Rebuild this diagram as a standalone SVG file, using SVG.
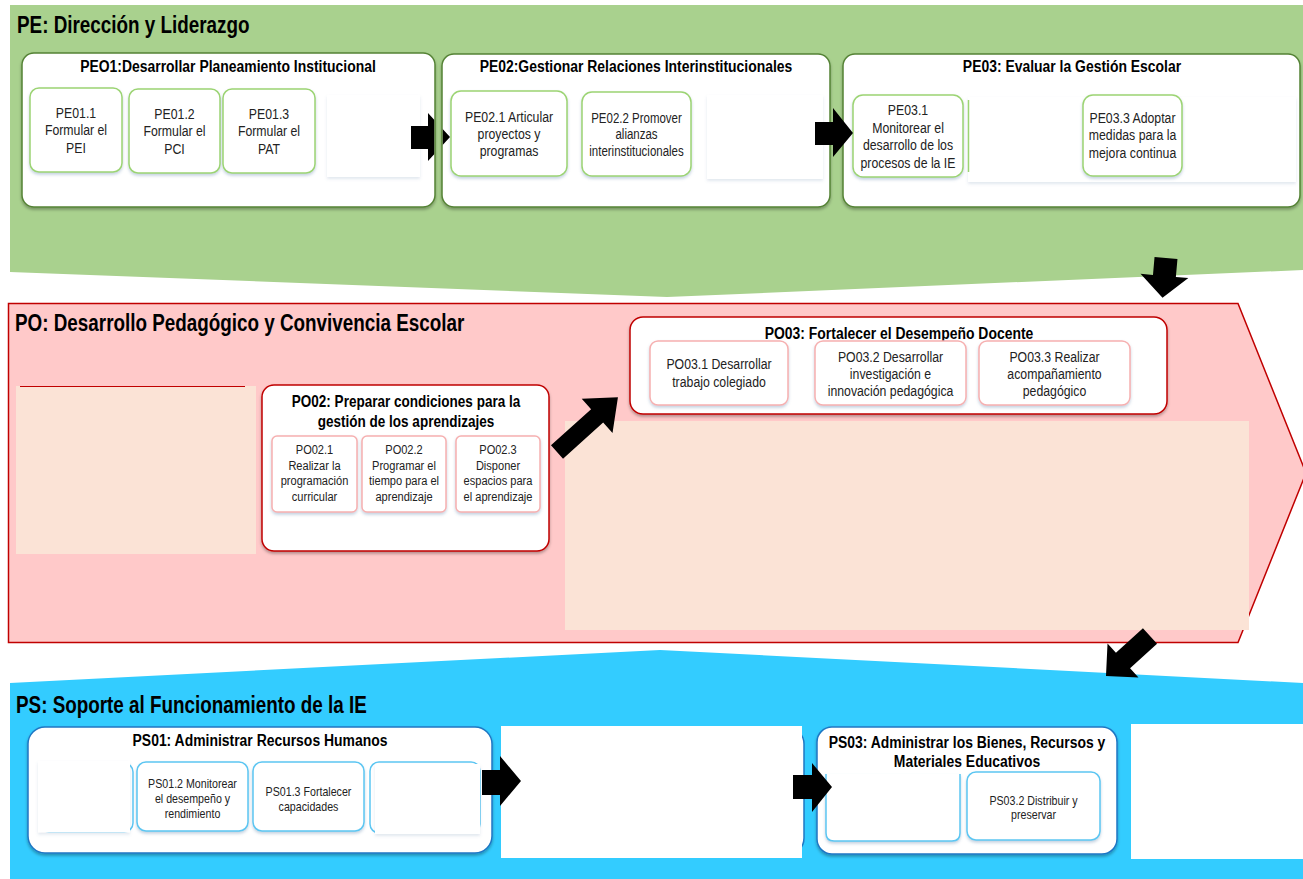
<svg xmlns="http://www.w3.org/2000/svg" width="1303" height="879" viewBox="0 0 1303 879">
<defs>
<style>
text{font-family:'Liberation Sans',Arial,sans-serif}
.bt{font-size:23px;font-weight:bold;fill:#000}
.ht{font-size:17px;font-weight:bold;fill:#000;text-anchor:middle}
.st{font-size:15px;fill:#222;text-anchor:middle}
.s14{font-size:14px}
.s135{font-size:13.5px}
.s13{font-size:13px}
.pe-box{fill:#fff;stroke:#548235;stroke-width:1.5}
.pe-sub{fill:#fff;stroke:#9cd473;stroke-width:1.5}
.po-box{fill:#fff;stroke:#c00000;stroke-width:1.5}
.po-sub{fill:#fff;stroke:#f6b0b0;stroke-width:1.5}
.ps-box{fill:#fff;stroke:#1f77c4;stroke-width:1.5}
.ps-sub{fill:#fff;stroke:#5cc6f2;stroke-width:1.5}
.cover{fill:#fff}
.peach{fill:#fbe3d6}
.arrow{fill:#000}
</style>
<filter id="sh" x="-10%" y="-10%" width="120%" height="130%"><feDropShadow dx="0" dy="2" stdDeviation="1.5" flood-color="#000" flood-opacity="0.3"/></filter>
<filter id="sh2" x="-10%" y="-10%" width="120%" height="130%"><feDropShadow dx="0" dy="2" stdDeviation="1.5" flood-color="#5b7fa8" flood-opacity="0.35"/></filter>
<filter id="faint" x="-10%" y="-10%" width="120%" height="130%"><feDropShadow dx="0" dy="2" stdDeviation="1.5" flood-color="#5b7fa8" flood-opacity="0.18"/></filter>
<clipPath id="gap"><rect x="0" y="0" width="434.2" height="879"/><rect x="442.8" y="0" width="861" height="879"/></clipPath>
</defs>

<g id="bands">
<polygon points="10,5 1303,5 1303,270 667,297 10,272" fill="#a9d18e"/>
<polygon points="8.5,303.5 1238,303.5 1306,473 1238,642.5 8.5,642.5" fill="#ffc9c9" stroke="#c00000" stroke-width="1.5"/>
<polygon points="10,683 660,650 1303,683 1303,879 10,879" fill="#33ccff"/>
<text class="bt" transform="translate(17,33) scale(0.82,1)">PE: Dirección y Liderazgo</text>
<text class="bt" transform="translate(15,331) scale(0.82,1)">PO: Desarrollo Pedagógico y Convivencia Escolar</text>
<text class="bt" transform="translate(16,713) scale(0.82,1)">PS: Soporte al Funcionamiento de la IE</text>
<rect class="peach" x="16" y="386" width="240" height="168"/>
<line x1="20" y1="386.5" x2="245" y2="386.5" stroke="#c00000" stroke-width="1.2"/>
<rect class="peach" x="565" y="421" width="684" height="209"/>
</g>

<g id="PE01">
<rect class="pe-box" x="22" y="53" width="413" height="154" rx="12" filter="url(#sh)"/>
<text class="ht" transform="translate(228,72) scale(0.82,1)">PEO1:Desarrollar Planeamiento Institucional</text>
<rect class="pe-sub" x="30" y="88" width="92" height="84" rx="9" filter="url(#sh2)"/>
<text class="st" transform="translate(76,118) scale(0.82,1)"><tspan x="0">PE01.1</tspan><tspan x="0" dy="17.5">Formular el</tspan><tspan x="0" dy="17.5">PEI</tspan></text>
<rect class="pe-sub" x="129" y="89" width="91" height="84" rx="9" filter="url(#sh2)"/>
<text class="st" transform="translate(174.5,119) scale(0.82,1)"><tspan x="0">PE01.2</tspan><tspan x="0" dy="17.5">Formular el</tspan><tspan x="0" dy="17.5">PCI</tspan></text>
<rect class="pe-sub" x="223" y="89" width="92" height="84" rx="9" filter="url(#sh2)"/>
<text class="st" transform="translate(269,119) scale(0.82,1)"><tspan x="0">PE01.3</tspan><tspan x="0" dy="17.5">Formular el</tspan><tspan x="0" dy="17.5">PAT</tspan></text>
<rect class="cover" x="327" y="95" width="93" height="82" filter="url(#faint)"/>
</g>

<g id="PE02">
<rect class="pe-box" x="442" y="54" width="388" height="153" rx="12" filter="url(#sh)"/>
<text class="ht" transform="translate(636,72) scale(0.82,1)">PE02:Gestionar Relaciones Interinstitucionales</text>
<rect class="pe-sub" x="451" y="91" width="116" height="85" rx="10" filter="url(#sh2)"/>
<text class="st" transform="translate(509,122) scale(0.82,1)"><tspan x="0">PE02.1 Articular</tspan><tspan x="0" dy="17">proyectos y</tspan><tspan x="0" dy="17">programas</tspan></text>
<rect class="pe-sub" x="582" y="92" width="109" height="84" rx="10" filter="url(#sh2)"/>
<text class="st s14" transform="translate(636.5,123) scale(0.82,1)"><tspan x="0">PE02.2 Promover</tspan><tspan x="0" dy="16.5">alianzas</tspan><tspan x="0" dy="16.5">interinstitucionales</tspan></text>
<rect class="cover" x="707" y="95" width="116" height="84" filter="url(#faint)"/>
</g>

<g id="PE03">
<rect class="pe-box" x="843" y="54" width="457" height="153" rx="12" filter="url(#sh)"/>
<text class="ht" transform="translate(1072,72) scale(0.82,1)">PE03: Evaluar la Gestión Escolar</text>
<rect class="pe-sub" x="853" y="95" width="110" height="82" rx="10" filter="url(#sh2)"/>
<text class="st" transform="translate(908,115) scale(0.82,1)"><tspan x="0">PE03.1</tspan><tspan x="0" dy="17.7">Monitorear  el</tspan><tspan x="0" dy="17.7">desarrollo de los</tspan><tspan x="0" dy="17.7">procesos de la IE</tspan></text>
<rect class="cover" x="968" y="97" width="328" height="85" filter="url(#faint)"/>
<line x1="968.5" y1="100" x2="968.5" y2="172" stroke="#9cd473" stroke-width="1.5"/>
<rect class="pe-sub" x="1083" y="95" width="99" height="81" rx="10" filter="url(#sh2)"/>
<text class="st" transform="translate(1132.5,123) scale(0.82,1)"><tspan x="0">PE03.3 Adoptar</tspan><tspan x="0" dy="17.5">medidas para la</tspan><tspan x="0" dy="17.5">mejora continua</tspan></text>
</g>

<g id="PO02">
<rect class="po-box" x="262" y="385" width="287" height="166" rx="12" filter="url(#sh)"/>
<text class="ht" style="font-size:16.5px" transform="translate(406,407) scale(0.82,1)"><tspan x="0">PO02: Preparar condiciones para la</tspan><tspan x="0" dy="20">gestión de los aprendizajes</tspan></text>
<rect class="po-sub" x="272" y="436" width="85" height="76" rx="5" filter="url(#sh2)"/>
<text class="st s135" transform="translate(314.5,454) scale(0.82,1)"><tspan x="0">PO02.1</tspan><tspan x="0" dy="15.7">Realizar la</tspan><tspan x="0" dy="15.7">programación</tspan><tspan x="0" dy="15.7">curricular</tspan></text>
<rect class="po-sub" x="362" y="436" width="84" height="76" rx="5" filter="url(#sh2)"/>
<text class="st s135" transform="translate(404,454) scale(0.82,1)"><tspan x="0">PO02.2</tspan><tspan x="0" dy="15.7">Programar el</tspan><tspan x="0" dy="15.7">tiempo para el</tspan><tspan x="0" dy="15.7">aprendizaje</tspan></text>
<rect class="po-sub" x="456" y="436" width="84" height="76" rx="5" filter="url(#sh2)"/>
<text class="st s135" transform="translate(498,454) scale(0.82,1)"><tspan x="0">PO02.3</tspan><tspan x="0" dy="15.7">Disponer</tspan><tspan x="0" dy="15.7">espacios para</tspan><tspan x="0" dy="15.7">el aprendizaje</tspan></text>
</g>

<g id="PO03">
<rect class="po-box" x="630" y="317" width="537" height="97" rx="13" filter="url(#sh)"/>
<text class="ht" transform="translate(899,339) scale(0.82,1)">PO03: Fortalecer el Desempeño Docente</text>
<rect class="po-sub" x="650" y="341" width="138" height="64" rx="8" filter="url(#sh2)"/>
<text class="st" transform="translate(719,369) scale(0.82,1)"><tspan x="0">PO03.1 Desarrollar</tspan><tspan x="0" dy="18">trabajo colegiado</tspan></text>
<rect class="po-sub" x="815" y="341" width="151" height="64" rx="8" filter="url(#sh2)"/>
<text class="st" transform="translate(890.5,362) scale(0.82,1)"><tspan x="0">PO03.2 Desarrollar</tspan><tspan x="0" dy="17">investigación e</tspan><tspan x="0" dy="17">innovación pedagógica</tspan></text>
<rect class="po-sub" x="979" y="341" width="151" height="64" rx="8" filter="url(#sh2)"/>
<text class="st" transform="translate(1054.5,362) scale(0.82,1)"><tspan x="0">PO03.3 Realizar</tspan><tspan x="0" dy="17">acompañamiento</tspan><tspan x="0" dy="17">pedagógico</tspan></text>
</g>

<g id="PS01">
<rect class="ps-box" x="28" y="727" width="464" height="126" rx="17" filter="url(#sh)"/>
<text class="ht" transform="translate(260,746) scale(0.82,1)">PS01: Administrar Recursos Humanos</text>
<rect class="ps-sub" x="40" y="763" width="93" height="69" rx="9"/>
<rect class="cover" x="38" y="761" width="92" height="71.5" filter="url(#faint)"/>
<rect class="ps-sub" x="137" y="762" width="111" height="69" rx="9" filter="url(#sh2)"/>
<text class="st s13" transform="translate(192.5,787.5) scale(0.82,1)"><tspan x="0">PS01.2 Monitorear</tspan><tspan x="0" dy="15.5">el desempeño y</tspan><tspan x="0" dy="15.5">rendimiento</tspan></text>
<rect class="ps-sub" x="253" y="762" width="111" height="69" rx="9" filter="url(#sh2)"/>
<text class="st s13" transform="translate(308.5,795.5) scale(0.82,1)"><tspan x="0">PS01.3 Fortalecer</tspan><tspan x="0" dy="15.5">capacidades</tspan></text>
<rect class="ps-sub" x="370" y="762" width="110" height="71" rx="9"/>
<rect class="cover" x="375" y="764" width="105" height="70" filter="url(#faint)"/>
</g>

<g id="PS02">
<rect class="ps-box" x="600" y="727" width="204" height="128" rx="17"/>
<rect class="cover" x="501" y="726" width="301" height="132"/>
</g>

<g id="PS03">
<rect class="ps-box" x="817" y="727" width="300" height="127" rx="15" filter="url(#sh)"/>
<text class="ht" transform="translate(967,748) scale(0.82,1)"><tspan x="0">PS03: Administrar los Bienes, Recursos y</tspan><tspan x="0" dy="19">Materiales Educativos</tspan></text>
<path class="ps-sub" d="M826,774 V833 Q826,841 834,841 H952 Q960,841 960,833 V774" filter="url(#sh2)"/>
<rect class="ps-sub" x="967" y="772" width="133" height="68" rx="9" filter="url(#sh2)"/>
<text class="st s13" transform="translate(1033.5,804.5) scale(0.82,1)"><tspan x="0">PS03.2 Distribuir y</tspan><tspan x="0" dy="15">preservar</tspan></text>
<rect class="cover" x="1131" y="724" width="172" height="135"/>
</g>

<g id="connectors">
<polygon class="arrow" clip-path="url(#gap)" points="411,126 428,126 428,113 450,137 428,161 428,149 411,149"/>
<polygon class="arrow" points="815,122 833,122 833,108 853,133 833,157 833,145 815,145"/>
<polygon class="arrow" transform="translate(1166,258) rotate(5)" points="-11.5,0 11.5,0 11.5,18 24,18 0,40 -24,18 -11.5,18"/>
<polygon class="arrow" transform="translate(557,452) rotate(-42)" points="0,-9 54,-9 54,-23 82,0 54,23 54,9 0,9"/>
<polygon class="arrow" transform="translate(1150,636) rotate(137.7)" points="0,-10.5 36.5,-10.5 36.5,-23 59.5,0 36.5,23 36.5,10.5 0,10.5"/>
<polygon class="arrow" points="482,770 500,770 500,756 521,781 500,806 500,795 482,795"/>
<polygon class="arrow" points="793,775 812,775 812,763 832,787 812,812 812,799 793,799"/>
</g>
</svg>
